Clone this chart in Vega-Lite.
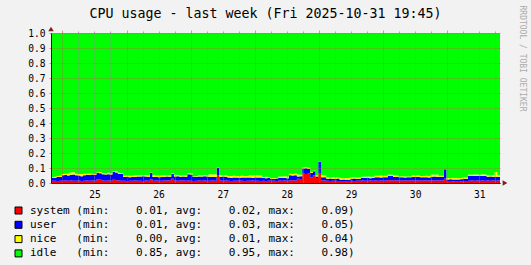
{
  "$schema": "https://vega.github.io/schema/vega-lite/v6.json",
  "width": 449,
  "height": 150,
  "autosize": {"type": "none"},
  "padding": {"left": 51, "top": 33, "right": 31, "bottom": 82},
  "background": "#F2F2F2",
  "config": {"view": {"stroke": null}, "font": "DejaVu Sans Mono"},
  "title": {
    "text": "CPU usage - last week (Fri 2025-10-31 19:45)",
    "font": "DejaVu Sans Mono",
    "fontSize": 13.3,
    "fontWeight": "normal",
    "color": "#000000",
    "anchor": "middle",
    "dx": -10,
    "offset": 0,
    "dy": 15
  },
  "resolve": {"axis": {"x": "independent", "y": "independent"}},
  "layer": [
    {
      "data": {
        "values": [
          {"t": "2025-10-24T19:45", "system": 0.015, "user": 0.018, "nice": 0.007, "idle": 0.960},
          {"t": "2025-10-24T20:45", "system": 0.015, "user": 0.019, "nice": 0.007, "idle": 0.959},
          {"t": "2025-10-24T21:45", "system": 0.014, "user": 0.026, "nice": 0.007, "idle": 0.953},
          {"t": "2025-10-24T22:45", "system": 0.015, "user": 0.025, "nice": 0.009, "idle": 0.951},
          {"t": "2025-10-24T23:45", "system": 0.015, "user": 0.036, "nice": 0.009, "idle": 0.940},
          {"t": "2025-10-25T00:45", "system": 0.016, "user": 0.037, "nice": 0.009, "idle": 0.938},
          {"t": "2025-10-25T01:45", "system": 0.015, "user": 0.035, "nice": 0.014, "idle": 0.936},
          {"t": "2025-10-25T02:45", "system": 0.016, "user": 0.039, "nice": 0.015, "idle": 0.930},
          {"t": "2025-10-25T03:45", "system": 0.015, "user": 0.041, "nice": 0.016, "idle": 0.928},
          {"t": "2025-10-25T04:45", "system": 0.015, "user": 0.036, "nice": 0.011, "idle": 0.938},
          {"t": "2025-10-25T05:45", "system": 0.016, "user": 0.034, "nice": 0.010, "idle": 0.940},
          {"t": "2025-10-25T06:45", "system": 0.014, "user": 0.031, "nice": 0.015, "idle": 0.940},
          {"t": "2025-10-25T07:45", "system": 0.015, "user": 0.036, "nice": 0.011, "idle": 0.938},
          {"t": "2025-10-25T08:45", "system": 0.016, "user": 0.039, "nice": 0.007, "idle": 0.938},
          {"t": "2025-10-25T09:45", "system": 0.015, "user": 0.039, "nice": 0.010, "idle": 0.936},
          {"t": "2025-10-25T10:45", "system": 0.017, "user": 0.039, "nice": 0.006, "idle": 0.938},
          {"t": "2025-10-25T11:45", "system": 0.015, "user": 0.040, "nice": 0.005, "idle": 0.940},
          {"t": "2025-10-25T12:45", "system": 0.024, "user": 0.043, "nice": 0.004, "idle": 0.929},
          {"t": "2025-10-25T13:45", "system": 0.022, "user": 0.043, "nice": 0.008, "idle": 0.927},
          {"t": "2025-10-25T14:45", "system": 0.016, "user": 0.042, "nice": 0.009, "idle": 0.933},
          {"t": "2025-10-25T15:45", "system": 0.015, "user": 0.041, "nice": 0.008, "idle": 0.936},
          {"t": "2025-10-25T16:45", "system": 0.016, "user": 0.043, "nice": 0.010, "idle": 0.931},
          {"t": "2025-10-25T17:45", "system": 0.015, "user": 0.042, "nice": 0.008, "idle": 0.935},
          {"t": "2025-10-25T18:45", "system": 0.022, "user": 0.051, "nice": 0.005, "idle": 0.922},
          {"t": "2025-10-25T19:45", "system": 0.018, "user": 0.052, "nice": 0.010, "idle": 0.920},
          {"t": "2025-10-25T20:45", "system": 0.016, "user": 0.046, "nice": 0.007, "idle": 0.931},
          {"t": "2025-10-25T21:45", "system": 0.015, "user": 0.045, "nice": 0.007, "idle": 0.933},
          {"t": "2025-10-25T22:45", "system": 0.015, "user": 0.025, "nice": 0.009, "idle": 0.951},
          {"t": "2025-10-25T23:45", "system": 0.014, "user": 0.027, "nice": 0.009, "idle": 0.950},
          {"t": "2025-10-26T00:45", "system": 0.015, "user": 0.024, "nice": 0.009, "idle": 0.952},
          {"t": "2025-10-26T01:45", "system": 0.015, "user": 0.027, "nice": 0.007, "idle": 0.951},
          {"t": "2025-10-26T02:45", "system": 0.016, "user": 0.024, "nice": 0.011, "idle": 0.949},
          {"t": "2025-10-26T03:45", "system": 0.015, "user": 0.029, "nice": 0.007, "idle": 0.949},
          {"t": "2025-10-26T04:45", "system": 0.015, "user": 0.028, "nice": 0.009, "idle": 0.948},
          {"t": "2025-10-26T05:45", "system": 0.014, "user": 0.031, "nice": 0.005, "idle": 0.950},
          {"t": "2025-10-26T06:45", "system": 0.016, "user": 0.028, "nice": 0.009, "idle": 0.947},
          {"t": "2025-10-26T07:45", "system": 0.015, "user": 0.027, "nice": 0.009, "idle": 0.949},
          {"t": "2025-10-26T08:45", "system": 0.024, "user": 0.043, "nice": 0.003, "idle": 0.930},
          {"t": "2025-10-26T09:45", "system": 0.015, "user": 0.025, "nice": 0.011, "idle": 0.949},
          {"t": "2025-10-26T10:45", "system": 0.016, "user": 0.025, "nice": 0.009, "idle": 0.950},
          {"t": "2025-10-26T11:45", "system": 0.015, "user": 0.024, "nice": 0.013, "idle": 0.948},
          {"t": "2025-10-26T12:45", "system": 0.015, "user": 0.025, "nice": 0.011, "idle": 0.949},
          {"t": "2025-10-26T13:45", "system": 0.017, "user": 0.025, "nice": 0.009, "idle": 0.949},
          {"t": "2025-10-26T14:45", "system": 0.016, "user": 0.027, "nice": 0.007, "idle": 0.950},
          {"t": "2025-10-26T15:45", "system": 0.018, "user": 0.024, "nice": 0.010, "idle": 0.948},
          {"t": "2025-10-26T16:45", "system": 0.029, "user": 0.033, "nice": 0.005, "idle": 0.933},
          {"t": "2025-10-26T17:45", "system": 0.016, "user": 0.028, "nice": 0.011, "idle": 0.945},
          {"t": "2025-10-26T18:45", "system": 0.015, "user": 0.030, "nice": 0.009, "idle": 0.946},
          {"t": "2025-10-26T19:45", "system": 0.016, "user": 0.026, "nice": 0.009, "idle": 0.949},
          {"t": "2025-10-26T20:45", "system": 0.017, "user": 0.026, "nice": 0.007, "idle": 0.950},
          {"t": "2025-10-26T21:45", "system": 0.015, "user": 0.027, "nice": 0.010, "idle": 0.948},
          {"t": "2025-10-26T22:45", "system": 0.016, "user": 0.042, "nice": 0.009, "idle": 0.933},
          {"t": "2025-10-26T23:45", "system": 0.015, "user": 0.041, "nice": 0.009, "idle": 0.935},
          {"t": "2025-10-27T00:45", "system": 0.014, "user": 0.026, "nice": 0.004, "idle": 0.956},
          {"t": "2025-10-27T01:45", "system": 0.015, "user": 0.025, "nice": 0.005, "idle": 0.955},
          {"t": "2025-10-27T02:45", "system": 0.016, "user": 0.028, "nice": 0.007, "idle": 0.949},
          {"t": "2025-10-27T03:45", "system": 0.015, "user": 0.028, "nice": 0.007, "idle": 0.950},
          {"t": "2025-10-27T04:45", "system": 0.016, "user": 0.029, "nice": 0.007, "idle": 0.948},
          {"t": "2025-10-27T05:45", "system": 0.015, "user": 0.029, "nice": 0.007, "idle": 0.949},
          {"t": "2025-10-27T06:45", "system": 0.015, "user": 0.025, "nice": 0.018, "idle": 0.942},
          {"t": "2025-10-27T07:45", "system": 0.016, "user": 0.025, "nice": 0.015, "idle": 0.944},
          {"t": "2025-10-27T08:45", "system": 0.015, "user": 0.025, "nice": 0.018, "idle": 0.942},
          {"t": "2025-10-27T09:45", "system": 0.051, "user": 0.049, "nice": 0.002, "idle": 0.898},
          {"t": "2025-10-27T10:45", "system": 0.016, "user": 0.026, "nice": 0.009, "idle": 0.949},
          {"t": "2025-10-27T11:45", "system": 0.015, "user": 0.028, "nice": 0.007, "idle": 0.950},
          {"t": "2025-10-27T12:45", "system": 0.016, "user": 0.026, "nice": 0.010, "idle": 0.948},
          {"t": "2025-10-27T13:45", "system": 0.015, "user": 0.021, "nice": 0.011, "idle": 0.953},
          {"t": "2025-10-27T14:45", "system": 0.014, "user": 0.021, "nice": 0.011, "idle": 0.954},
          {"t": "2025-10-27T15:45", "system": 0.015, "user": 0.022, "nice": 0.011, "idle": 0.952},
          {"t": "2025-10-27T16:45", "system": 0.015, "user": 0.021, "nice": 0.011, "idle": 0.953},
          {"t": "2025-10-27T17:45", "system": 0.016, "user": 0.019, "nice": 0.011, "idle": 0.954},
          {"t": "2025-10-27T18:45", "system": 0.015, "user": 0.021, "nice": 0.012, "idle": 0.952},
          {"t": "2025-10-27T19:45", "system": 0.014, "user": 0.023, "nice": 0.010, "idle": 0.953},
          {"t": "2025-10-27T20:45", "system": 0.015, "user": 0.021, "nice": 0.010, "idle": 0.954},
          {"t": "2025-10-27T21:45", "system": 0.015, "user": 0.021, "nice": 0.015, "idle": 0.949},
          {"t": "2025-10-27T22:45", "system": 0.016, "user": 0.019, "nice": 0.015, "idle": 0.950},
          {"t": "2025-10-27T23:45", "system": 0.015, "user": 0.022, "nice": 0.015, "idle": 0.948},
          {"t": "2025-10-28T00:45", "system": 0.015, "user": 0.021, "nice": 0.015, "idle": 0.949},
          {"t": "2025-10-28T01:45", "system": 0.014, "user": 0.022, "nice": 0.014, "idle": 0.950},
          {"t": "2025-10-28T02:45", "system": 0.015, "user": 0.018, "nice": 0.007, "idle": 0.960},
          {"t": "2025-10-28T03:45", "system": 0.014, "user": 0.018, "nice": 0.009, "idle": 0.959},
          {"t": "2025-10-28T04:45", "system": 0.015, "user": 0.019, "nice": 0.005, "idle": 0.961},
          {"t": "2025-10-28T05:45", "system": 0.015, "user": 0.014, "nice": 0.004, "idle": 0.967},
          {"t": "2025-10-28T06:45", "system": 0.015, "user": 0.014, "nice": 0.005, "idle": 0.966},
          {"t": "2025-10-28T07:45", "system": 0.014, "user": 0.016, "nice": 0.003, "idle": 0.967},
          {"t": "2025-10-28T08:45", "system": 0.016, "user": 0.017, "nice": 0.011, "idle": 0.956},
          {"t": "2025-10-28T09:45", "system": 0.015, "user": 0.019, "nice": 0.009, "idle": 0.957},
          {"t": "2025-10-28T10:45", "system": 0.016, "user": 0.017, "nice": 0.012, "idle": 0.955},
          {"t": "2025-10-28T11:45", "system": 0.015, "user": 0.017, "nice": 0.012, "idle": 0.956},
          {"t": "2025-10-28T12:45", "system": 0.017, "user": 0.034, "nice": 0.011, "idle": 0.938},
          {"t": "2025-10-28T13:45", "system": 0.018, "user": 0.032, "nice": 0.010, "idle": 0.940},
          {"t": "2025-10-28T14:45", "system": 0.017, "user": 0.035, "nice": 0.011, "idle": 0.937},
          {"t": "2025-10-28T15:45", "system": 0.029, "user": 0.015, "nice": 0.012, "idle": 0.944},
          {"t": "2025-10-28T16:45", "system": 0.027, "user": 0.018, "nice": 0.010, "idle": 0.945},
          {"t": "2025-10-28T17:45", "system": 0.062, "user": 0.034, "nice": 0.008, "idle": 0.896},
          {"t": "2025-10-28T18:45", "system": 0.060, "user": 0.038, "nice": 0.007, "idle": 0.895},
          {"t": "2025-10-28T19:45", "system": 0.063, "user": 0.031, "nice": 0.008, "idle": 0.898},
          {"t": "2025-10-28T20:45", "system": 0.038, "user": 0.029, "nice": 0.006, "idle": 0.927},
          {"t": "2025-10-28T21:45", "system": 0.051, "user": 0.027, "nice": 0.004, "idle": 0.918},
          {"t": "2025-10-28T22:45", "system": 0.033, "user": 0.011, "nice": 0.006, "idle": 0.950},
          {"t": "2025-10-28T23:45", "system": 0.067, "user": 0.073, "nice": 0.002, "idle": 0.858},
          {"t": "2025-10-29T00:45", "system": 0.017, "user": 0.021, "nice": 0.013, "idle": 0.949},
          {"t": "2025-10-29T01:45", "system": 0.016, "user": 0.023, "nice": 0.011, "idle": 0.950},
          {"t": "2025-10-29T02:45", "system": 0.015, "user": 0.014, "nice": 0.009, "idle": 0.962},
          {"t": "2025-10-29T03:45", "system": 0.014, "user": 0.016, "nice": 0.007, "idle": 0.963},
          {"t": "2025-10-29T04:45", "system": 0.015, "user": 0.013, "nice": 0.011, "idle": 0.961},
          {"t": "2025-10-29T05:45", "system": 0.015, "user": 0.014, "nice": 0.009, "idle": 0.962},
          {"t": "2025-10-29T06:45", "system": 0.014, "user": 0.016, "nice": 0.007, "idle": 0.963},
          {"t": "2025-10-29T07:45", "system": 0.013, "user": 0.009, "nice": 0.011, "idle": 0.967},
          {"t": "2025-10-29T08:45", "system": 0.014, "user": 0.009, "nice": 0.009, "idle": 0.968},
          {"t": "2025-10-29T09:45", "system": 0.013, "user": 0.009, "nice": 0.012, "idle": 0.966},
          {"t": "2025-10-29T10:45", "system": 0.014, "user": 0.008, "nice": 0.011, "idle": 0.967},
          {"t": "2025-10-29T11:45", "system": 0.015, "user": 0.014, "nice": 0.009, "idle": 0.962},
          {"t": "2025-10-29T12:45", "system": 0.014, "user": 0.016, "nice": 0.009, "idle": 0.961},
          {"t": "2025-10-29T13:45", "system": 0.015, "user": 0.013, "nice": 0.009, "idle": 0.963},
          {"t": "2025-10-29T14:45", "system": 0.015, "user": 0.014, "nice": 0.009, "idle": 0.962},
          {"t": "2025-10-29T15:45", "system": 0.016, "user": 0.017, "nice": 0.009, "idle": 0.958},
          {"t": "2025-10-29T16:45", "system": 0.015, "user": 0.019, "nice": 0.007, "idle": 0.959},
          {"t": "2025-10-29T17:45", "system": 0.015, "user": 0.018, "nice": 0.010, "idle": 0.957},
          {"t": "2025-10-29T18:45", "system": 0.016, "user": 0.016, "nice": 0.010, "idle": 0.958},
          {"t": "2025-10-29T19:45", "system": 0.015, "user": 0.018, "nice": 0.009, "idle": 0.958},
          {"t": "2025-10-29T20:45", "system": 0.016, "user": 0.022, "nice": 0.011, "idle": 0.951},
          {"t": "2025-10-29T21:45", "system": 0.015, "user": 0.024, "nice": 0.009, "idle": 0.952},
          {"t": "2025-10-29T22:45", "system": 0.016, "user": 0.021, "nice": 0.013, "idle": 0.950},
          {"t": "2025-10-29T23:45", "system": 0.015, "user": 0.023, "nice": 0.011, "idle": 0.951},
          {"t": "2025-10-30T00:45", "system": 0.016, "user": 0.022, "nice": 0.010, "idle": 0.952},
          {"t": "2025-10-30T01:45", "system": 0.018, "user": 0.029, "nice": 0.009, "idle": 0.944},
          {"t": "2025-10-30T02:45", "system": 0.017, "user": 0.029, "nice": 0.009, "idle": 0.945},
          {"t": "2025-10-30T03:45", "system": 0.018, "user": 0.022, "nice": 0.011, "idle": 0.949},
          {"t": "2025-10-30T04:45", "system": 0.017, "user": 0.024, "nice": 0.009, "idle": 0.950},
          {"t": "2025-10-30T05:45", "system": 0.016, "user": 0.022, "nice": 0.006, "idle": 0.956},
          {"t": "2025-10-30T06:45", "system": 0.017, "user": 0.022, "nice": 0.006, "idle": 0.955},
          {"t": "2025-10-30T07:45", "system": 0.016, "user": 0.021, "nice": 0.007, "idle": 0.956},
          {"t": "2025-10-30T08:45", "system": 0.017, "user": 0.021, "nice": 0.005, "idle": 0.957},
          {"t": "2025-10-30T09:45", "system": 0.016, "user": 0.022, "nice": 0.006, "idle": 0.956},
          {"t": "2025-10-30T10:45", "system": 0.017, "user": 0.023, "nice": 0.011, "idle": 0.949},
          {"t": "2025-10-30T11:45", "system": 0.016, "user": 0.025, "nice": 0.009, "idle": 0.950},
          {"t": "2025-10-30T12:45", "system": 0.017, "user": 0.023, "nice": 0.012, "idle": 0.948},
          {"t": "2025-10-30T13:45", "system": 0.016, "user": 0.022, "nice": 0.009, "idle": 0.953},
          {"t": "2025-10-30T14:45", "system": 0.017, "user": 0.022, "nice": 0.007, "idle": 0.954},
          {"t": "2025-10-30T15:45", "system": 0.016, "user": 0.022, "nice": 0.010, "idle": 0.952},
          {"t": "2025-10-30T16:45", "system": 0.017, "user": 0.020, "nice": 0.010, "idle": 0.953},
          {"t": "2025-10-30T17:45", "system": 0.017, "user": 0.025, "nice": 0.014, "idle": 0.944},
          {"t": "2025-10-30T18:45", "system": 0.016, "user": 0.027, "nice": 0.012, "idle": 0.945},
          {"t": "2025-10-30T19:45", "system": 0.017, "user": 0.025, "nice": 0.015, "idle": 0.943},
          {"t": "2025-10-30T20:45", "system": 0.016, "user": 0.026, "nice": 0.007, "idle": 0.951},
          {"t": "2025-10-30T21:45", "system": 0.017, "user": 0.024, "nice": 0.007, "idle": 0.952},
          {"t": "2025-10-30T22:45", "system": 0.029, "user": 0.062, "nice": 0.002, "idle": 0.907},
          {"t": "2025-10-30T23:45", "system": 0.013, "user": 0.011, "nice": 0.009, "idle": 0.967},
          {"t": "2025-10-31T00:45", "system": 0.013, "user": 0.012, "nice": 0.007, "idle": 0.968},
          {"t": "2025-10-31T01:45", "system": 0.012, "user": 0.012, "nice": 0.010, "idle": 0.966},
          {"t": "2025-10-31T02:45", "system": 0.013, "user": 0.010, "nice": 0.010, "idle": 0.967},
          {"t": "2025-10-31T03:45", "system": 0.013, "user": 0.011, "nice": 0.008, "idle": 0.968},
          {"t": "2025-10-31T04:45", "system": 0.012, "user": 0.013, "nice": 0.008, "idle": 0.967},
          {"t": "2025-10-31T05:45", "system": 0.014, "user": 0.015, "nice": 0.009, "idle": 0.962},
          {"t": "2025-10-31T06:45", "system": 0.013, "user": 0.016, "nice": 0.008, "idle": 0.963},
          {"t": "2025-10-31T07:45", "system": 0.015, "user": 0.032, "nice": 0.009, "idle": 0.944},
          {"t": "2025-10-31T08:45", "system": 0.016, "user": 0.032, "nice": 0.007, "idle": 0.945},
          {"t": "2025-10-31T09:45", "system": 0.015, "user": 0.031, "nice": 0.011, "idle": 0.943},
          {"t": "2025-10-31T10:45", "system": 0.016, "user": 0.031, "nice": 0.009, "idle": 0.944},
          {"t": "2025-10-31T11:45", "system": 0.015, "user": 0.033, "nice": 0.007, "idle": 0.945},
          {"t": "2025-10-31T12:45", "system": 0.016, "user": 0.031, "nice": 0.011, "idle": 0.942},
          {"t": "2025-10-31T13:45", "system": 0.015, "user": 0.031, "nice": 0.010, "idle": 0.944},
          {"t": "2025-10-31T14:45", "system": 0.016, "user": 0.026, "nice": 0.009, "idle": 0.949},
          {"t": "2025-10-31T15:45", "system": 0.015, "user": 0.028, "nice": 0.007, "idle": 0.950},
          {"t": "2025-10-31T16:45", "system": 0.016, "user": 0.026, "nice": 0.010, "idle": 0.948},
          {"t": "2025-10-31T17:45", "system": 0.015, "user": 0.026, "nice": 0.032, "idle": 0.927},
          {"t": "2025-10-31T18:45", "system": 0.016, "user": 0.026, "nice": 0.009, "idle": 0.949},
          {"t": "2025-10-31T19:45", "system": 0.016, "user": 0.026, "nice": 0.009, "idle": 0.949}
        ]
      },
      "transform": [
        {"fold": ["system", "user", "nice", "idle"], "as": ["series", "value"]},
        {
          "lookup": "series",
          "from": {
            "data": {"values": [
              {"series": "system", "rank": 1},
              {"series": "user", "rank": 2},
              {"series": "nice", "rank": 3},
              {"series": "idle", "rank": 4}
            ]},
            "key": "series",
            "fields": ["rank"]
          }
        }
      ],
      "mark": {"type": "area", "interpolate": "step-after", "opacity": 1},
      "encoding": {
        "x": {
          "field": "t",
          "type": "temporal",
          "scale": {
            "domain": [
              {"year": 2025, "month": 10, "date": 24, "hours": 19, "minutes": 45},
              {"year": 2025, "month": 10, "date": 31, "hours": 19, "minutes": 45}
            ],
            "nice": false
          },
          "axis": {
            "title": null,
            "values": [
              {"year": 2025, "month": 10, "date": 25, "hours": 12},
              {"year": 2025, "month": 10, "date": 26, "hours": 12},
              {"year": 2025, "month": 10, "date": 27, "hours": 12},
              {"year": 2025, "month": 10, "date": 28, "hours": 12},
              {"year": 2025, "month": 10, "date": 29, "hours": 12},
              {"year": 2025, "month": 10, "date": 30, "hours": 12},
              {"year": 2025, "month": 10, "date": 31, "hours": 12}
            ],
            "format": "%d",
            "labelFont": "DejaVu Sans Mono",
            "labelFontSize": 9.6,
            "labelColor": "#000000",
            "labelPadding": 6,
            "ticks": false,
            "grid": false,
            "domainColor": "#1F1F1F",
            "zindex": 1
          }
        },
        "y": {
          "field": "value",
          "type": "quantitative",
          "stack": "zero",
          "scale": {"domain": [0, 1], "nice": false},
          "axis": {
            "title": null,
            "values": [0, 0.1, 0.2, 0.3, 0.4, 0.5, 0.6, 0.7, 0.8, 0.9, 1.0],
            "format": ".1f",
            "labelFont": "DejaVu Sans Mono",
            "labelFontSize": 9.6,
            "labelColor": "#000000",
            "labelPadding": 4,
            "tickSize": 2,
            "tickColor": "rgba(222,79,79,0.6)",
            "grid": true,
            "gridColor": "rgba(222,79,79,0.6)",
            "gridDash": [1, 1],
            "domainColor": "#1F1F1F",
            "zindex": 1
          }
        },
        "color": {
          "field": "series",
          "type": "nominal",
          "scale": {"domain": ["system", "user", "nice", "idle"], "range": ["#FF0000", "#0000FF", "#FFFF00", "#00FF00"]},
          "legend": {
            "orient": "none",
            "legendX": -38,
            "legendY": 172,
            "direction": "vertical",
            "title": null,
            "padding": 0,
            "symbolType": "square",
            "symbolSize": 49,
            "symbolStrokeColor": "#000000",
            "symbolStrokeWidth": 1,
            "symbolOpacity": 1,
            "labelFont": "DejaVu Sans Mono",
            "labelFontSize": 11,
            "labelColor": "#000000",
            "labelLimit": 600,
            "labelOffset": 6,
            "rowPadding": 2.3,
            "labelExpr": "datum.label == 'system' ? 'system\u00a0(min:\u00a0\u00a0\u00a0\u00a00.01,\u00a0avg:\u00a0\u00a0\u00a0\u00a00.02,\u00a0max:\u00a0\u00a0\u00a0\u00a00.09)' : datum.label == 'user' ? 'user\u00a0\u00a0\u00a0(min:\u00a0\u00a0\u00a0\u00a00.01,\u00a0avg:\u00a0\u00a0\u00a0\u00a00.03,\u00a0max:\u00a0\u00a0\u00a0\u00a00.05)' : datum.label == 'nice' ? 'nice\u00a0\u00a0\u00a0(min:\u00a0\u00a0\u00a0\u00a00.00,\u00a0avg:\u00a0\u00a0\u00a0\u00a00.01,\u00a0max:\u00a0\u00a0\u00a0\u00a00.04)' : 'idle\u00a0\u00a0\u00a0(min:\u00a0\u00a0\u00a0\u00a00.85,\u00a0avg:\u00a0\u00a0\u00a0\u00a00.95,\u00a0max:\u00a0\u00a0\u00a0\u00a00.98)'"
          }
        },
        "order": {"field": "rank", "type": "quantitative"}
      }
    },
    {
      "data": {"values": [{}]},
      "mark": {"type": "point", "shape": "triangle-right", "filled": true, "color": "#801F1F", "opacity": 1, "size": 30, "xOffset": 5},
      "encoding": {
        "x": {
          "datum": {"year": 2025, "month": 10, "date": 31, "hours": 19, "minutes": 45},
          "type": "temporal",
          "axis": {
            "title": null,
            "values": [
              {"year": 2025, "month": 10, "date": 25, "hours": 6},
              {"year": 2025, "month": 10, "date": 25, "hours": 12},
              {"year": 2025, "month": 10, "date": 25, "hours": 18},
              {"year": 2025, "month": 10, "date": 26, "hours": 6},
              {"year": 2025, "month": 10, "date": 26, "hours": 12},
              {"year": 2025, "month": 10, "date": 26, "hours": 18},
              {"year": 2025, "month": 10, "date": 27, "hours": 6},
              {"year": 2025, "month": 10, "date": 27, "hours": 12},
              {"year": 2025, "month": 10, "date": 27, "hours": 18},
              {"year": 2025, "month": 10, "date": 28, "hours": 6},
              {"year": 2025, "month": 10, "date": 28, "hours": 12},
              {"year": 2025, "month": 10, "date": 28, "hours": 18},
              {"year": 2025, "month": 10, "date": 29, "hours": 6},
              {"year": 2025, "month": 10, "date": 29, "hours": 12},
              {"year": 2025, "month": 10, "date": 29, "hours": 18},
              {"year": 2025, "month": 10, "date": 30, "hours": 6},
              {"year": 2025, "month": 10, "date": 30, "hours": 12},
              {"year": 2025, "month": 10, "date": 30, "hours": 18},
              {"year": 2025, "month": 10, "date": 31, "hours": 6},
              {"year": 2025, "month": 10, "date": 31, "hours": 12},
              {"year": 2025, "month": 10, "date": 31, "hours": 18}
            ],
            "labels": false,
            "domain": false,
            "ticks": true,
            "tickSize": 2,
            "tickColor": "rgba(143,143,143,0.75)",
            "grid": true,
            "gridColor": "rgba(143,143,143,0.75)",
            "gridDash": [1, 1],
            "zindex": 1
          }
        },
        "y": {
          "datum": 0,
          "type": "quantitative",
          "axis": {
            "orient": "right",
            "title": "RRDTOOL / TOBI OETIKER",
            "labels": false,
            "ticks": false,
            "domain": false,
            "grid": false,
            "titleFont": "DejaVu Sans Mono",
            "titleFontSize": 8,
            "titleFontWeight": "normal",
            "titleColor": "#ABABAB",
            "titleAngle": 90,
            "titleX": 21,
            "titleY": -28,
            "titleAlign": "left",
            "titleBaseline": "middle"
          }
        }
      }
    },
    {
      "data": {"values": [{}]},
      "mark": {"type": "point", "shape": "triangle-up", "filled": true, "color": "#801F1F", "opacity": 1, "size": 30, "yOffset": -4},
      "encoding": {
        "x": {
          "datum": {"year": 2025, "month": 10, "date": 24, "hours": 19, "minutes": 45},
          "type": "temporal",
          "axis": {
            "title": null,
            "values": [
              {"year": 2025, "month": 10, "date": 25, "hours": 0},
              {"year": 2025, "month": 10, "date": 26, "hours": 0},
              {"year": 2025, "month": 10, "date": 27, "hours": 0},
              {"year": 2025, "month": 10, "date": 28, "hours": 0},
              {"year": 2025, "month": 10, "date": 29, "hours": 0},
              {"year": 2025, "month": 10, "date": 30, "hours": 0},
              {"year": 2025, "month": 10, "date": 31, "hours": 0}
            ],
            "labels": false,
            "domain": false,
            "ticks": true,
            "tickSize": 3,
            "tickColor": "rgba(222,79,79,0.6)",
            "grid": true,
            "gridColor": "rgba(222,79,79,0.6)",
            "gridDash": [1, 1],
            "zindex": 1
          }
        },
        "y": {"datum": 1, "type": "quantitative", "axis": null}
      }
    }
  ]
}
